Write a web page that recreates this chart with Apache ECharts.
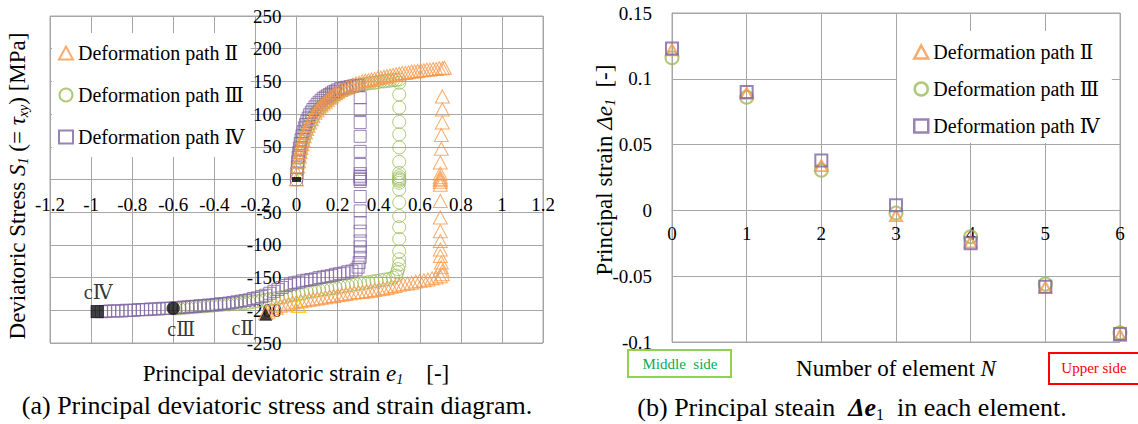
<!DOCTYPE html>
<html><head><meta charset="utf-8">
<script src="https://cdn.jsdelivr.net/npm/echarts@6/dist/echarts.min.js"></script>
<style>html,body{margin:0;padding:0;background:#fff}#c{width:1138px;height:424px}</style>
</head><body><div id="c"></div>
<script>
const FONT = "'Liberation Serif','Times New Roman','DejaVu Serif',serif";
const seriesNames = ['Deformation path Ⅱ', 'Deformation path Ⅲ', 'Deformation path Ⅳ'];

// (a) principal deviatoric strain e1 vs deviatoric stress S1 [MPa]
const pathII = [
 [0,0],[0.003,10],[0.006,20],[0.01,28],[0.014,35],[0.018,42],[0.022,48],[0.027,54],[0.032,60],[0.038,66],[0.044,72],[0.05,77],[0.057,82],[0.064,87],[0.072,92],[0.08,97],[0.09,102],[0.10,106],[0.11,110],[0.12,113],[0.13,116],[0.14,119],[0.15,122],[0.16,125],[0.17,127],[0.18,130],[0.19,132],[0.20,134],[0.215,137],[0.23,139],[0.245,141],[0.26,143],[0.275,145],[0.29,147],[0.305,148],[0.32,150],[0.335,151],[0.35,152],[0.365,153],[0.38,154],[0.395,155],[0.41,156],[0.425,157],[0.44,158],[0.455,159],[0.47,160],[0.485,161],[0.50,162],[0.515,163],[0.53,163],[0.545,164],[0.56,165],[0.575,165],[0.59,166],[0.605,167],[0.62,167],[0.635,168],[0.65,168],[0.665,169],[0.68,169],[0.695,170],[0.71,170],[0.72,171],
 [0.71,127],[0.71,107],[0.71,87],[0.705,68],[0.705,47],[0.70,26],[0.70,9],[0.70,4],[0.70,1],[0.70,-1],[0.70,-4],[0.70,-8],[0.70,-33],[0.70,-58],[0.70,-79],[0.70,-94],[0.70,-107],[0.70,-117],[0.705,-127],[0.705,-134],[0.71,-140],[0.71,-145],
 [0.70,-148],[0.68,-150],[0.66,-151],[0.64,-153],[0.62,-154],[0.60,-155],[0.58,-156],[0.56,-158],[0.54,-159],[0.52,-160],[0.50,-161],[0.48,-163],[0.46,-164],[0.44,-166],[0.42,-167],[0.40,-168],[0.38,-169],[0.36,-170],[0.34,-171],[0.32,-172],[0.30,-172],[0.28,-173],[0.26,-174],[0.24,-175],[0.22,-176],[0.20,-177],[0.18,-178],[0.16,-179],[0.14,-180],[0.12,-181],[0.10,-182],[0.08,-183],[0.06,-184],[0.04,-185],[0.02,-186],[0.00,-187],[-0.02,-188],[-0.04,-190],[-0.06,-191],[-0.08,-193],[-0.10,-196],[-0.12,-199],[-0.14,-202],[-0.15,-204]
];
const pathIII = [
 [0,0],[0.003,9],[0.006,18],[0.01,26],[0.014,33],[0.018,40],[0.022,46],[0.027,52],[0.032,58],[0.038,64],[0.044,70],[0.05,75],[0.057,80],[0.064,85],[0.072,90],[0.08,95],[0.09,100],[0.10,104],[0.11,108],[0.12,111],[0.13,114],[0.14,117],[0.15,120],[0.16,122],[0.17,125],[0.18,127],[0.19,129],[0.20,131],[0.215,134],[0.23,136],[0.245,138],[0.26,140],[0.275,141],[0.29,143],[0.305,144],[0.32,145],[0.335,146],[0.35,147],[0.365,148],[0.38,148],[0.395,149],[0.41,150],[0.425,150],[0.44,151],[0.455,151],[0.47,152],[0.485,152],[0.50,153],
 [0.50,148],[0.50,130],[0.50,110],[0.50,88],[0.50,69],[0.50,49],[0.50,27],[0.50,10],[0.50,5],[0.50,2],[0.50,0],[0.50,-2],[0.50,-5],[0.50,-15],[0.50,-35],[0.50,-56],[0.50,-73],[0.50,-91],[0.50,-110],[0.50,-122],[0.50,-130],[0.495,-137],[0.49,-142],[0.485,-147],
 [0.47,-150],[0.45,-152],[0.43,-153],[0.41,-154],[0.39,-155],[0.37,-156],[0.35,-157],[0.33,-158],[0.31,-159],[0.29,-160],[0.27,-161],[0.25,-162],[0.23,-163],[0.21,-164],[0.19,-165],[0.17,-166],[0.15,-167],[0.13,-168],[0.11,-169],[0.09,-170],[0.07,-171],[0.05,-172],[0.03,-174],[0.01,-175],[-0.01,-176],[-0.03,-177],[-0.05,-179],[-0.07,-180],[-0.09,-181],[-0.11,-182],[-0.13,-183],[-0.15,-184],[-0.17,-185],[-0.19,-186],[-0.21,-187],[-0.23,-188],[-0.25,-189],[-0.27,-189],[-0.29,-190],[-0.31,-190],[-0.33,-191],[-0.35,-191],[-0.37,-192],[-0.39,-192],[-0.41,-193],[-0.43,-193],[-0.45,-194],[-0.47,-194],[-0.49,-195],[-0.51,-195],[-0.53,-196],[-0.55,-196],[-0.57,-197],[-0.59,-197],[-0.60,-197]
];
const pathIV = [
 [0,0],[0.002,10],[0.004,19],[0.006,27],[0.008,34],[0.011,41],[0.014,48],[0.018,55],[0.022,61],[0.027,67],[0.032,73],[0.038,79],[0.044,84],[0.05,89],[0.057,94],[0.064,99],[0.072,103],[0.08,107],[0.09,111],[0.10,115],[0.11,118],[0.12,121],[0.13,124],[0.14,126],[0.15,128],[0.16,130],[0.17,132],[0.18,134],[0.19,135],[0.20,137],[0.215,139],[0.23,140],[0.245,141],[0.26,142],[0.275,143],[0.29,144],[0.30,144],
 [0.31,125],[0.31,107],[0.31,87],[0.31,66],[0.31,43],[0.31,23],[0.31,9],[0.31,5],[0.31,2],[0.31,0],[0.31,-3],[0.31,-26],[0.31,-48],[0.31,-66],[0.31,-79],[0.31,-94],[0.31,-103],[0.31,-111],[0.31,-119],[0.305,-127],[0.30,-134],
 [0.29,-138],[0.27,-140],[0.25,-141],[0.23,-143],[0.21,-144],[0.19,-145],[0.17,-147],[0.15,-148],[0.13,-149],[0.11,-150],[0.09,-152],[0.07,-153],[0.05,-154],[0.03,-155],[0.01,-157],[-0.01,-158],[-0.03,-160],[-0.05,-162],[-0.07,-165],[-0.09,-168],[-0.11,-171],[-0.13,-174],[-0.15,-177],[-0.17,-179],[-0.19,-181],[-0.21,-182],[-0.23,-184],[-0.25,-185],[-0.27,-186],[-0.29,-187],[-0.31,-188],[-0.33,-189],[-0.35,-190],[-0.37,-190],[-0.39,-191],[-0.41,-192],[-0.43,-192],[-0.45,-193],[-0.47,-193],[-0.49,-194],[-0.51,-194],[-0.53,-195],[-0.55,-195],[-0.57,-196],[-0.59,-196],[-0.61,-197],[-0.63,-197],[-0.65,-197],[-0.67,-198],[-0.69,-198],[-0.71,-198],[-0.73,-199],[-0.75,-199],[-0.77,-199],[-0.79,-200],[-0.81,-200],[-0.83,-200],[-0.85,-201],[-0.87,-201],[-0.89,-201],[-0.91,-201],[-0.93,-202],[-0.95,-202],[-0.97,-202]
];
const cPoints = [[-0.97,-202],[-0.60,-197],[-0.15,-206]];
const cLabels = ['cⅣ','cⅢ','cⅡ'];
const originMark = [[0,0]];
const yellowMark = [[0.01,-193]];

// (b) principal strain increment per element
const elements = [0,1,2,3,4,5,6];
const dE_II  = [0.122, 0.089, 0.034, -0.004, -0.024, -0.0585, -0.095];
const dE_III = [0.116, 0.086, 0.0305, -0.002, -0.020, -0.056, -0.093];
const dE_IV  = [0.123, 0.090, 0.038, 0.004, -0.025, -0.058, -0.094];

// axis ranges
const xRangeA = [-1.2, 1.2], yRangeA = [-250, 250];
const xRangeB = [0, 6], yRangeB = [-0.1, 0.15];

const ORANGE = '#F79646', GREEN = '#9BBB59', PURPLE = '#8064A2', GRID = '#A6A6A6';
const cSymbols = ['rect','circle','triangle'];
const cLabelStyle = [
  {position:'top', offset:[1,2]},
  {position:'bottom', offset:[8,-1]},
  {position:'bottom', offset:[-23,-8]}
];

const gridA = {left:50, top:16, width:493, height:327};
const gridB = {left:672, top:13, width:448, height:329};
// shift the axes so that they cross at zero (labels follow the lines)
const xOffA = -gridA.height * (0 - yRangeA[0]) / (yRangeA[1] - yRangeA[0]);
const yOffA = -gridA.width * (0 - xRangeA[0]) / (xRangeA[1] - xRangeA[0]);
const xOffB = -gridB.height * (0 - yRangeB[0]) / (yRangeB[1] - yRangeB[0]);

const chart = echarts.init(document.getElementById('c'), null, {renderer:'svg'});
const tickLabel = {fontSize:19, fontFamily:FONT, color:'#000'};
function hollow(color, w){ return {color:'rgba(255,255,255,0)', borderColor:color, borderWidth:w}; }
function axisBase(extra){
  return Object.assign({type:'value', axisTick:{show:false}, splitLine:{lineStyle:{color:GRID}}}, extra);
}
const richName = {
  n:{fontSize:23,fontFamily:FONT,fill:'#000',lineHeight:26},
  i:{fontSize:23,fontFamily:FONT,fontStyle:'italic',fill:'#000',lineHeight:26},
  s:{fontSize:14,fontFamily:FONT,fontStyle:'italic',fill:'#000',lineHeight:12,verticalAlign:'bottom'}
};

const option = {
  animation:false,
  backgroundColor:'#fff',
  grid:[
    Object.assign({show:true, borderColor:GRID, borderWidth:1}, gridA),
    Object.assign({show:true, borderColor:GRID, borderWidth:1}, gridB)
  ],
  xAxis:[
    axisBase({gridIndex:0, min:xRangeA[0], max:xRangeA[1], interval:0.2, position:'bottom', offset:xOffA,
      axisLine:{onZero:false, lineStyle:{color:GRID}}, axisLabel:Object.assign({margin:15}, tickLabel)}),
    axisBase({gridIndex:1, min:xRangeB[0], max:xRangeB[1], interval:1, position:'bottom', offset:xOffB,
      axisLine:{onZero:false, lineStyle:{color:GRID}}, axisLabel:Object.assign({margin:14}, tickLabel)})
  ],
  yAxis:[
    axisBase({gridIndex:0, min:yRangeA[0], max:yRangeA[1], interval:50, position:'left', offset:yOffA,
      axisLine:{onZero:false, lineStyle:{color:GRID}}, axisLabel:Object.assign({margin:15}, tickLabel)}),
    axisBase({gridIndex:1, min:yRangeB[0], max:yRangeB[1], interval:0.05, position:'left',
      axisLine:{onZero:false, lineStyle:{color:GRID}}, axisLabel:Object.assign({margin:20}, tickLabel)})
  ],
  legend:[
    {orient:'vertical', left:52, top:33, padding:[10,6,10,6], itemGap:22, itemWidth:14, itemHeight:13,
     backgroundColor:'#fff', selectedMode:false,
     textStyle:{fontSize:20, fontFamily:FONT, color:'#000'},
     data:seriesNames},
    {orient:'vertical', left:897, top:31, padding:[11,12,7,16], itemGap:17, itemWidth:14, itemHeight:13,
     backgroundColor:'#fff', selectedMode:false,
     textStyle:{fontSize:20, fontFamily:FONT, color:'#000'},
     data:[
       {name:seriesNames[0], icon:'triangle', itemStyle:hollow(ORANGE,2.5)},
       {name:seriesNames[1], icon:'circle', itemStyle:hollow(GREEN,2.5)},
       {name:seriesNames[2], icon:'rect', itemStyle:hollow(PURPLE,2.5)}
     ]}
  ],
  series:[
    {name:seriesNames[1], type:'scatter', xAxisIndex:0, yAxisIndex:0, symbol:'circle', symbolSize:13,
     itemStyle:hollow(GREEN,1), data:pathIII, silent:true},
    {name:seriesNames[2], type:'scatter', xAxisIndex:0, yAxisIndex:0, symbol:'rect', symbolSize:12,
     itemStyle:hollow(PURPLE,1), data:pathIV, silent:true},
    {name:seriesNames[0], type:'scatter', xAxisIndex:0, yAxisIndex:0, symbol:'triangle', symbolSize:[14,13],
     itemStyle:hollow(ORANGE,1), data:pathII, silent:true},
    {type:'scatter', xAxisIndex:0, yAxisIndex:0, symbol:'triangle', symbolSize:[14,13],
     itemStyle:hollow('#FFC000',1.5), data:yellowMark, silent:true},
    {type:'scatter', xAxisIndex:0, yAxisIndex:0, symbol:'rect', symbolSize:[9,5], z:5,
     itemStyle:{color:'#000'}, data:originMark, silent:true},
    {type:'scatter', xAxisIndex:0, yAxisIndex:0, symbolSize:13, z:5, silent:true,
     itemStyle:{color:'#111'},
     label:{show:true, formatter:'{b}', fontSize:20, fontFamily:FONT, color:'#000'},
     data:cPoints.map((p,i)=>({value:p, name:cLabels[i], symbol:cSymbols[i], label:cLabelStyle[i]}))},
    {name:seriesNames[1], type:'scatter', xAxisIndex:1, yAxisIndex:1, symbol:'circle', symbolSize:13,
     itemStyle:hollow(GREEN,2), data:elements.map((n,i)=>[n,dE_III[i]]), silent:true},
    {name:seriesNames[0], type:'scatter', xAxisIndex:1, yAxisIndex:1, symbol:'triangle', symbolSize:[12,11],
     itemStyle:hollow(ORANGE,2), data:elements.map((n,i)=>[n,dE_II[i]]), silent:true},
    {name:seriesNames[2], type:'scatter', xAxisIndex:1, yAxisIndex:1, symbol:'rect', symbolSize:12,
     itemStyle:hollow(PURPLE,2), data:elements.map((n,i)=>[n,dE_IV[i]]), silent:true}
  ],
  graphic:[
    {type:'text', x:17, y:186, rotation:Math.PI/2, silent:true,
     style:{text:'{n|Deviatoric Stress }{i|S}{s|1}{n| (= }{i|τ}{s|xy}{n|) [MPa]}',
       align:'center', verticalAlign:'middle', rich:richName}},
    {type:'text', x:296, y:373, silent:true,
     style:{text:'{n|Principal deviatoric strain }{i|e}{s|1}{n|    [-]}',
       align:'center', verticalAlign:'middle', rich:richName}},
    {type:'text', x:277, y:405, silent:true,
     style:{text:'(a) Principal deviatoric stress and strain diagram.', align:'center', verticalAlign:'middle',
       fontSize:26, fontFamily:FONT, fill:'#000'}},
    {type:'text', x:604, y:170, rotation:Math.PI/2, silent:true,
     style:{text:'{n|Principal strain }{i|Δe}{s|1}{n|  [-]}',
       align:'center', verticalAlign:'middle', rich:richName}},
    {type:'text', x:896, y:368, silent:true,
     style:{text:'{n|Number of element }{i|N}', align:'center', verticalAlign:'middle', rich:richName}},
    {type:'text', x:852, y:407, silent:true,
     style:{text:'{n|(b) Principal steain  }{i|Δe}{s|1}{n|  in each element.}', align:'center', verticalAlign:'middle',
       rich:{n:{fontSize:26,fontFamily:FONT,fill:'#000',lineHeight:30},
             i:{fontSize:26,fontFamily:FONT,fontStyle:'italic',fontWeight:'bold',fill:'#000',lineHeight:30},
             s:{fontSize:16,fontFamily:FONT,fill:'#000',lineHeight:14,verticalAlign:'bottom'}}}},
    {type:'rect', silent:true, shape:{x:628, y:350, width:103, height:27},
     style:{fill:'#fff', stroke:'#92D050', lineWidth:2}},
    {type:'text', x:680, y:364, silent:true,
     style:{text:'Middle  side', align:'center', verticalAlign:'middle', fontSize:15, fontFamily:FONT, fill:'#00B050'}},
    {type:'rect', silent:true, shape:{x:1049, y:353, width:95, height:31},
     style:{fill:'#fff', stroke:'#FF0000', lineWidth:2}},
    {type:'text', x:1094, y:368, silent:true,
     style:{text:'Upper side', align:'center', verticalAlign:'middle', fontSize:15, fontFamily:FONT, fill:'#FF0000'}}
  ]
};
chart.setOption(option);
</script>
</body></html>
